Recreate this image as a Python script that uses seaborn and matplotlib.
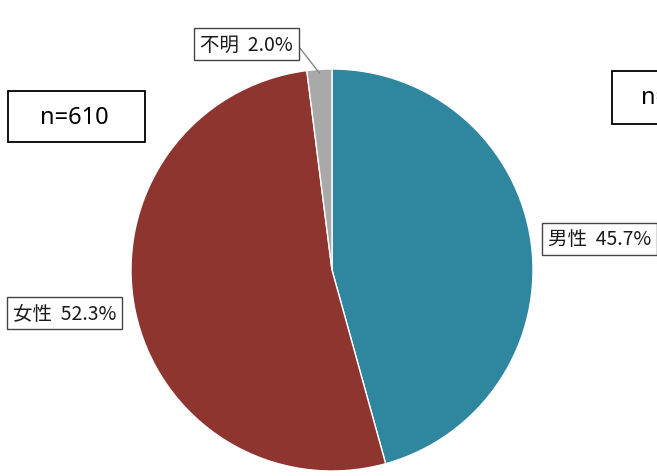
import numpy as np
import matplotlib
matplotlib.use("Agg")
import matplotlib.pyplot as plt
from matplotlib.patches import Rectangle
import seaborn as sns

# Respondent breakdown by sex
categories = ["男性", "女性", "不明"]
shares = [45.7, 52.3, 2.0]
slice_colors = ["#2F869F", "#8E3530", "#A9A9A9"]
sample_label = "n=610"

sns.set_theme(style="white")
plt.rcParams["font.family"] = ["Noto Sans CJK JP", "DejaVu Sans"]

W, H = 657, 477
fig = plt.figure(figsize=(W / 100, H / 100), dpi=100)
fig.patch.set_facecolor("white")


def fx(px):
    return px / W


def fy(py):
    return 1 - py / H


# Pie axes: centre (332, 271), radius 201 px
cx, cy, r = 332, 271, 201
ax = fig.add_axes([fx(cx - r), fy(cy + r), 2 * r / W, 2 * r / H])
wedges, _ = ax.pie(
    shares,
    colors=slice_colors,
    startangle=90,
    counterclock=False,
    radius=1.0,
    wedgeprops=dict(edgecolor="white", linewidth=1.0),
)
ax.set_xlim(-1, 1)
ax.set_ylim(-1, 1)
ax.set_aspect("equal")
ax.axis("off")


def label_text(i):
    return f"{categories[i]}  {shares[i]:.1f}%"


box = dict(boxstyle="square,pad=0.3", facecolor="white", edgecolor="#444444", linewidth=1.0)
label_kw = dict(fontsize=14, color="#1a1a1a")

# 男性 label (right)
fig.text(fx(548), fy(240), label_text(0), ha="left", va="center", bbox=box, **label_kw)
# 女性 label (left)
fig.text(fx(13), fy(314), label_text(1), ha="left", va="center", bbox=box, **label_kw)

# 不明 label with a leader line to its thin slice
w = wedges[2]
mid = np.deg2rad((w.theta1 + w.theta2) / 2)
tip = (0.98 * np.cos(mid), 0.98 * np.sin(mid))
ax.annotate(
    label_text(2),
    xy=tip, xycoords="data",
    xytext=(fx(200), fy(45)), textcoords="figure fraction",
    ha="left", va="center",
    bbox=box,
    arrowprops=dict(arrowstyle="-", color="#888888", linewidth=1.0,
                    shrinkA=0, shrinkB=0, relpos=(1.0, 0.75)),
    annotation_clip=False,
    **label_kw,
)

# Sample-size boxes
for (x0, y0, x1, y1), tx in [((8, 92, 145, 143), 40), ((612, 72, 720, 125), 641)]:
    fig.patches.append(Rectangle((fx(x0), fy(y1)), fx(x1 - x0), (y1 - y0) / H,
                                 transform=fig.transFigure, facecolor="white",
                                 edgecolor="black", linewidth=1.3))
    fig.text(fx(tx), fy((y0 + y1) / 2), sample_label, ha="left", va="center",
             fontsize=17, color="black", family=["Noto Sans", "DejaVu Sans"])

fig.savefig("out.png", dpi=100, facecolor="white")
